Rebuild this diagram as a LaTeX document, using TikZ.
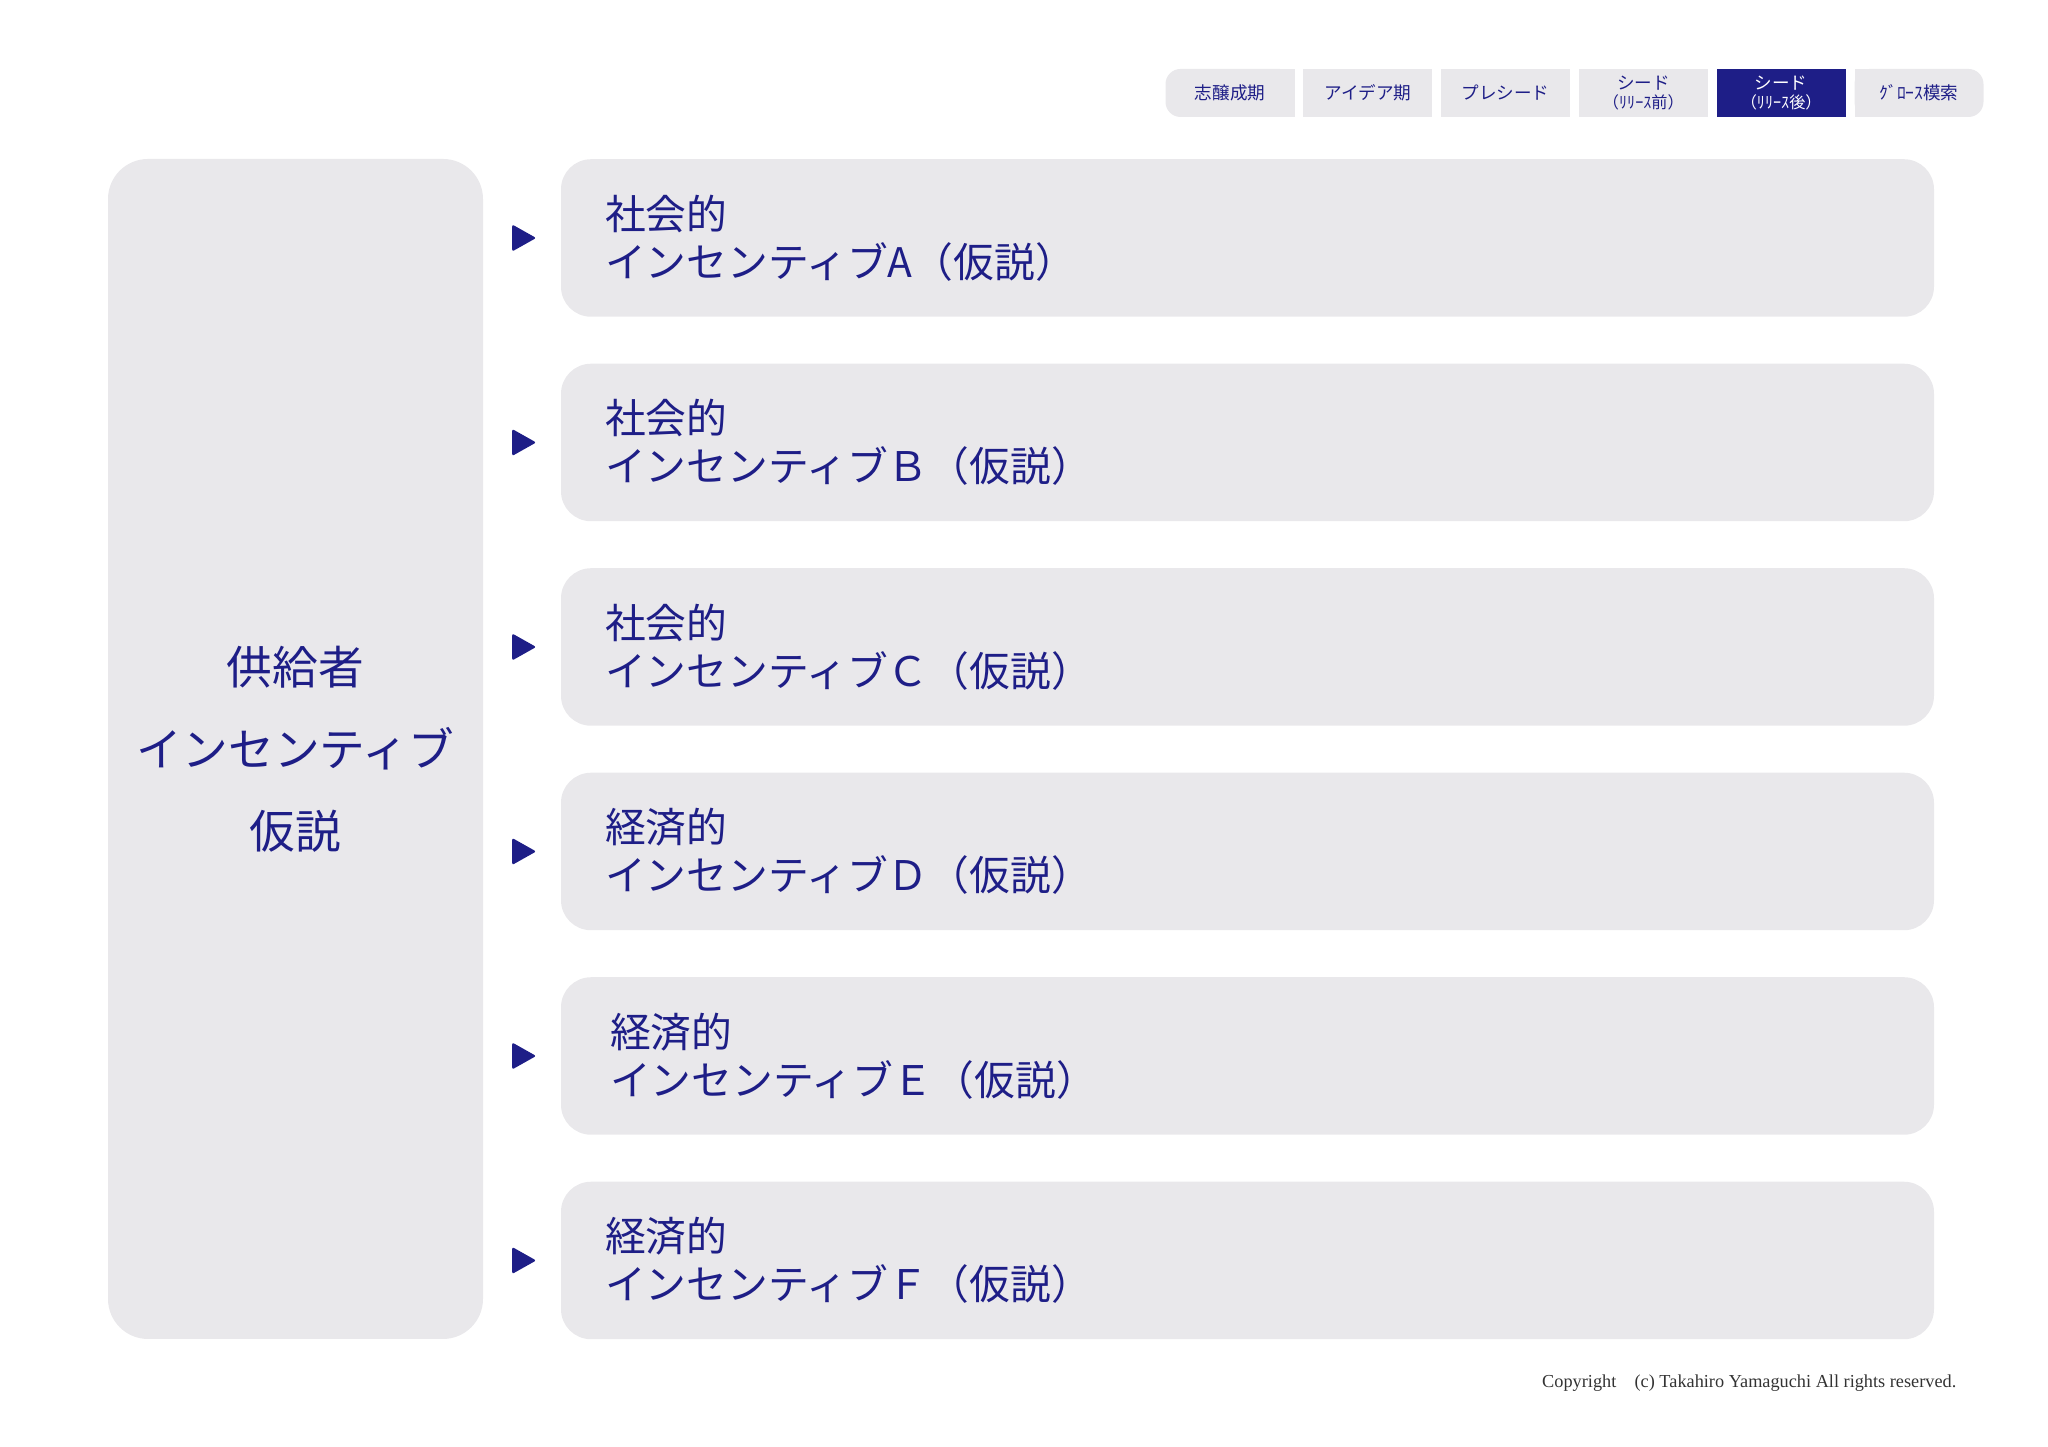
\documentclass[tikz,border=0pt]{standalone}
\usepackage{fontspec}
\setmainfont{Noto Sans CJK JP}
\newfontfamily\copyfont{Liberation Serif}
\usetikzlibrary{shapes,positioning,backgrounds}
\definecolor{navy}{RGB}{30,30,135}
\definecolor{panel}{RGB}{233,232,235}

\begin{document}
\begin{tikzpicture}[
    hyp/.style={rectangle, fill=panel, rounded corners=0.3cm, outer sep=0, minimum height=1.575cm, text width=12.85cm, inner xsep=0.44cm, align=left, text=navy, font=\fontsize{11.6pt}{13.7pt}\selectfont},
    supplier/.style={rectangle, fill=panel, rounded corners=0.4cm, minimum width=3.75cm, minimum height=11.8cm, align=center, text=navy, font=\fontsize{13pt}{23.3pt}\selectfont},
    tab/.style={rectangle, fill=panel, outer sep=0, minimum width=1.29cm, minimum height=0.48cm, inner sep=0, align=center, text=navy, font=\fontsize{5pt}{5.4pt}\selectfont},
    pointer/.style={isosceles triangle, isosceles triangle stretches, fill=navy, inner sep=0, minimum width=0.27cm, minimum height=0.24cm, rounded corners=0.02cm}
]
    \useasboundingbox (0,0) rectangle (20.48,14.47);

    % Phase tabs
    \node[tab, rounded corners=0.15cm] (t1) at (12.30,13.54) {志醸成期};
    \node[tab, right=0.088cm of t1] (t2) {アイデア期};
    \node[tab, right=0.088cm of t2] (t3) {プレシード};
    \node[tab, right=0.088cm of t3] (t4) {シード\\{\fontsize{4.6pt}{5pt}\selectfont（ﾘﾘｰｽ前）}};
    \node[tab, right=0.088cm of t4, fill=navy, text=white] (t5) {シード\\{\fontsize{4.6pt}{5pt}\selectfont（ﾘﾘｰｽ後）}};
    \node[tab, right=0.088cm of t5, rounded corners=0.15cm] (t6) {ｸﾞﾛｰｽ模索};
    \begin{scope}[on background layer]
        \fill[panel] (t1.north) rectangle (t1.south east);
        \fill[panel] (t6.north west) rectangle (t6.south);
    \end{scope}

    % Supplier side
    \node[supplier] (sup) at (2.955,6.98) {供給者\\インセンティブ\\仮説};

    % Hypotheses
    \node[hyp] (hA) at (12.475,12.09) {社会的\\インセンティブA（仮説）};
    \node[hyp, below=0.47cm of hA] (hB) {社会的\\インセンティブＢ（仮説）};
    \node[hyp, below=0.47cm of hB] (hC) {社会的\\インセンティブＣ（仮説）};
    \node[hyp, below=0.47cm of hC] (hD) {経済的\\インセンティブＤ（仮説）};
    \node[hyp, below=0.47cm of hD] (hE) {\hspace{0.05cm}経済的\\\hspace{0.05cm}インセンティブＥ（仮説）};
    \node[hyp, below=0.47cm of hE] (hF) {経済的\\インセンティブＦ（仮説）};

    % Pointers
    \node[pointer, left=0.23cm of hA] (pA) {};
    \node[pointer, left=0.23cm of hB] (pB) {};
    \node[pointer, left=0.23cm of hC] (pC) {};
    \node[pointer, left=0.23cm of hD] (pD) {};
    \node[pointer, left=0.23cm of hE] (pE) {};
    \node[pointer, left=0.23cm of hF] (pF) {};

    % Footer
    \node[anchor=east, inner sep=0, text=black!80, font=\copyfont\fontsize{5.2pt}{7pt}\selectfont] (copy) at (19.57,0.64) {Copyright\quad(c) Takahiro Yamaguchi All rights reserved.};
\end{tikzpicture}
\end{document}
